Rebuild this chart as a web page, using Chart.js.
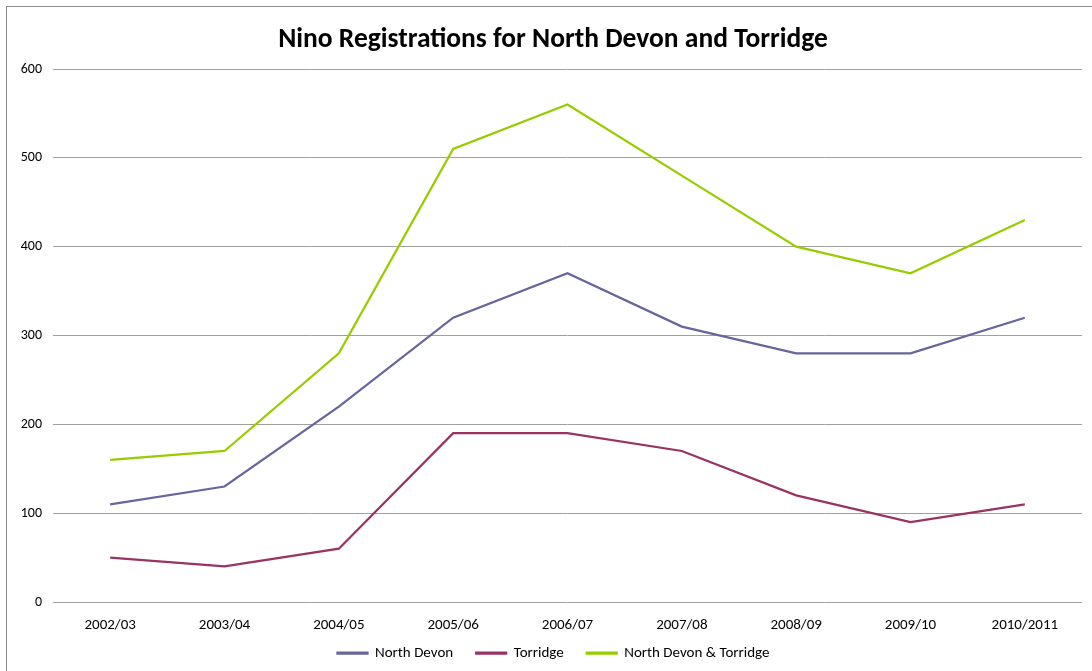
<!DOCTYPE html>
<html>
<head>
<meta charset="utf-8">
<script src="https://cdn.jsdelivr.net/npm/chart.js@4"></script>
<style>
  body { margin: 0; background: #fff; overflow: hidden; width: 1092px; height: 671px; }
  #frame { position: absolute; left: 6px; top: 6px; width: 1120px; height: 700px; border: 1px solid #8c8c8c; }
  #wrap { position: absolute; left: 7px; top: 7px; width: 1092px; height: 664px; }
</style>
</head>
<body>
<div id="frame"></div>
<div id="wrap"><canvas id="chart"></canvas></div>
<script>
// Nino registrations per year
const years = ['2002/03', '2003/04', '2004/05', '2005/06', '2006/07', '2007/08', '2008/09', '2009/10', '2010/2011'];
const northDevon = [110, 130, 220, 320, 370, 310, 280, 280, 320];
const torridge = [50, 40, 60, 190, 190, 170, 120, 90, 110];
const combined = [160, 170, 280, 510, 560, 480, 400, 370, 430];

const fontFamily = "Calibri, Carlito, Lato, 'Open Sans', sans-serif";

function lineSeries(label, data, color) {
    return {
        label: label,
        data: data,
        borderColor: color,
        backgroundColor: color,
        borderWidth: 2.25,
        pointRadius: 0,
        tension: 0
    };
}

// Legend keeps a fixed height (wide item spacing would otherwise squash the plot),
// then title and legend get nudged to where the original sits
const tweakBoxes = {
    id: 'tweakBoxes',
    beforeLayout(chart) {
        const legend = chart.legend;
        if (legend && !legend._fixedFit) {
            const fit = legend.fit;
            legend.fit = function () {
                fit.call(this);
                this.height = 34;
            };
            legend._fixedFit = true;
        }
    },
    afterLayout(chart) {
        const title = chart.titleBlock;
        if (title) {
            title.left += 17;
        }
        const legend = chart.legend;
        if (legend) {
            legend.top = 615.5;
            legend.bottom = chart.height;
            legend.height = legend.bottom - legend.top;
            legend.left += 9;
            legend.right += 9;
        }
    }
};

const ctx = document.getElementById('chart').getContext('2d');
new Chart(ctx, {
    type: 'line',
    data: {
        labels: years,
        datasets: [
            lineSeries('North Devon', northDevon, '#66669c'),
            lineSeries('Torridge', torridge, '#993366'),
            lineSeries('North Devon & Torridge', combined, '#99cc00')
        ]
    },
    options: {
        responsive: true,
        maintainAspectRatio: false,
        animation: false,
        layout: { padding: { left: 0, right: 17, top: 0, bottom: 0 } },
        plugins: {
            title: {
                display: true,
                text: 'Nino Registrations for North Devon and Torridge',
                color: '#000',
                font: { family: fontFamily, size: 27.5, weight: 'bold' },
                padding: { top: 16.5, bottom: 12.5 }
            },
            legend: {
                position: 'bottom',
                labels: {
                    color: '#000',
                    font: { family: fontFamily, size: 15 },
                    boxWidth: 30,
                    boxHeight: 1,
                    padding: 23
                }
            },
            tooltip: { enabled: false }
        },
        scales: {
            x: {
                offset: true,
                grid: { display: false, drawTicks: false },
                border: { display: false },
                ticks: {
                    color: '#000',
                    font: { family: fontFamily, size: 15 },
                    padding: 14,
                    maxRotation: 0,
                    autoSkip: false
                },
                afterFit: scale => { scale.height = 35; }
            },
            y: {
                min: 0,
                max: 600,
                grid: { color: '#a0a0a0', lineWidth: 1, drawTicks: false },
                border: { display: false },
                ticks: {
                    stepSize: 100,
                    color: '#000',
                    font: { family: fontFamily, size: 14 },
                    padding: 11
                },
                afterFit: scale => { scale.width = 46; }
            }
        }
    },
    plugins: [tweakBoxes]
});
</script>
</body>
</html>
